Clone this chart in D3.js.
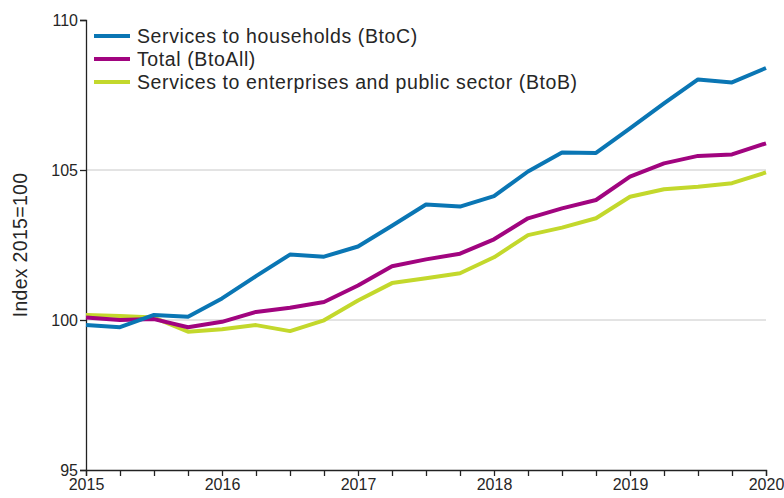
<!DOCTYPE html>
<html>
<head>
<meta charset="utf-8">
<script src="https://cdn.jsdelivr.net/npm/d3@7"></script>
<style>
body { margin: 0; background: #fff; }
text { font-family: "Liberation Sans", Arial, sans-serif; fill: #262626; }
</style>
</head>
<body>
<div id="chart"></div>
<script>
// quarterly index, 2015=100
const quarters = ["2015Q1","2015Q2","2015Q3","2015Q4","2016Q1","2016Q2","2016Q3","2016Q4",
                  "2017Q1","2017Q2","2017Q3","2017Q4","2018Q1","2018Q2","2018Q3","2018Q4",
                  "2019Q1","2019Q2","2019Q3","2019Q4","2020Q1"]

const btoc   = [99.83, 99.76, 100.17, 100.11, 100.72, 101.46, 102.18, 102.11, 102.45, 103.14, 103.85,
                103.78, 104.13, 104.95, 105.58, 105.57, 106.39, 107.22, 108.02, 107.92, 108.40]
const btoall = [100.08, 100.00, 100.03, 99.76, 99.94, 100.27, 100.41, 100.60, 101.15, 101.79, 102.02,
                102.21, 102.69, 103.39, 103.72, 104.00, 104.78, 105.22, 105.47, 105.52, 105.89]
const btob   = [100.17, 100.13, 100.08, 99.61, 99.69, 99.83, 99.63, 99.99, 100.65, 101.23, 101.39,
                101.56, 102.09, 102.83, 103.08, 103.39, 104.11, 104.36, 104.44, 104.56, 104.92]

const series_names = ["Services to households (BtoC)", "Total (BtoAll)",
                      "Services to enterprises and public sector (BtoB)"]
const y_ticks = [95, 100, 105, 110]
const y_grid = [100, 105]
const y_title = "Index 2015=100"

// ------------------------------------------------------------------
const margin = {top: 20, right: 18, bottom: 28, left: 86}
const width = 784 - margin.left - margin.right
const height = 498 - margin.top - margin.bottom

const colors = ["#0a76b4", "#a1047f", "#c3d82c"]

const to_year = function(q) { return +q.slice(0,4) + (+q.slice(5) - 1) / 4 }
const xs = quarters.map(to_year)

const x = d3.scaleLinear().domain([2015, 2020]).range([0, width])
const y = d3.scaleLinear().domain([95, 110]).range([height, 0])

const svg = d3.select("#chart").append("svg")
    .attr("width", 784)
    .attr("height", 498)
  .append("g")
    .attr("transform", "translate(" + margin.left + "," + margin.top + ")")

// grid lines
svg.selectAll(".grid")
    .data(y_grid)
  .enter().append("line")
    .attr("x1", 0).attr("x2", width)
    .attr("y1", d => y(d)).attr("y2", d => y(d))
    .attr("stroke", "#c8c8c8")
    .attr("stroke-width", 1)

// y axis
const gy = svg.append("g")
    .call(d3.axisLeft(y).tickValues(y_ticks).tickSize(6).tickPadding(2))
gy.selectAll("text").style("font-size", "16px")

// x axis, quarter ticks, year labels
const gx = svg.append("g")
    .attr("transform", "translate(0," + height + ")")
    .call(d3.axisBottom(x).tickValues(xs)
      .tickFormat(d => Number.isInteger(d) ? d : "")
      .tickSize(6).tickPadding(3))
gx.selectAll("text").style("font-size", "16px")

svg.selectAll(".domain, .tick line").attr("stroke", "#222").attr("stroke-width", 1.3)

// y title
svg.append("text")
    .attr("transform", "translate(" + (-59) + "," + (y(102.5)) + ") rotate(-90)")
    .attr("text-anchor", "middle")
    .style("font-size", "19.5px")
    .style("letter-spacing", "0.3px")
    .text(y_title)

// lines
const all = [btoc, btoall, btob]
const line = d3.line()
    .x((d, i) => x(xs[i]))
    .y(d => y(d))

// drawn so that BtoC ends on top, like the original
;[2, 1, 0].forEach(function(k) {
  svg.append("path")
      .datum(all[k])
      .attr("fill", "none")
      .attr("stroke", colors[k])
      .attr("stroke-width", 4)
      .attr("stroke-linejoin", "round")
      .attr("d", line)
})

// legend
const leg = svg.append("g").attr("transform", "translate(8,16)")
series_names.forEach(function(name, i) {
  const row = leg.append("g").attr("transform", "translate(0," + (i * 23) + ")")
  row.append("line")
      .attr("x1", 0).attr("x2", 36)
      .attr("stroke", colors[i])
      .attr("stroke-width", 4)
  row.append("text")
      .attr("x", 43)
      .attr("dy", "0.35em")
      .style("font-size", "19.5px")
      .style("letter-spacing", "0.6px")
      .text(name)
})
</script>
</body>
</html>
